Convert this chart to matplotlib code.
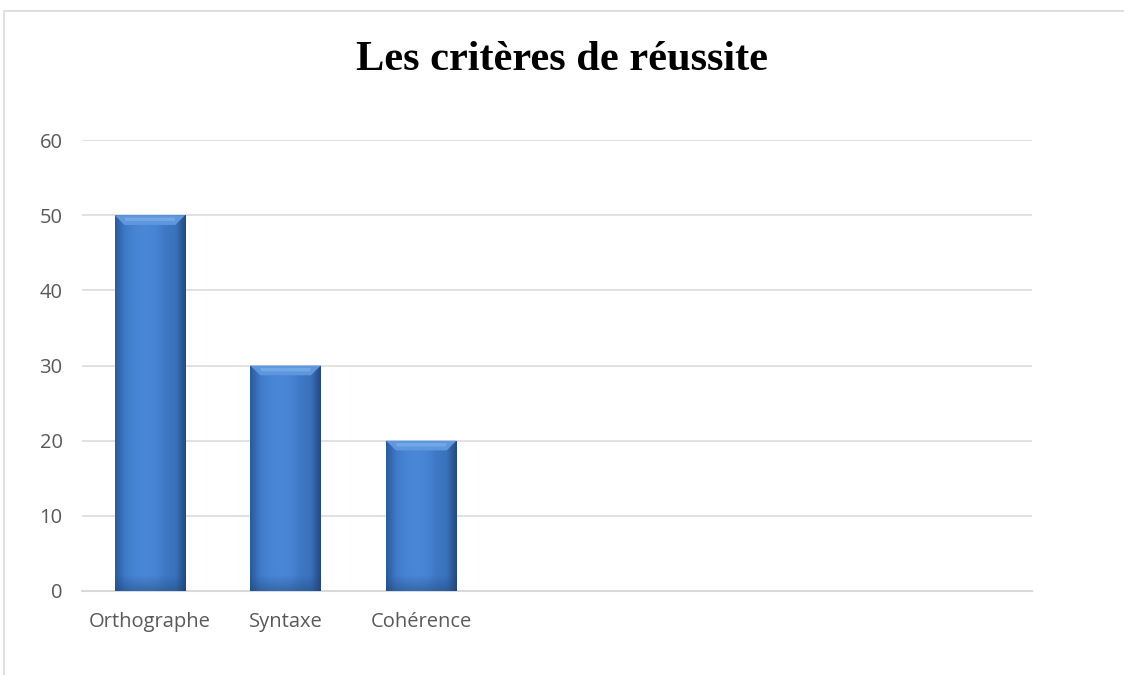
import matplotlib.pyplot as plt
import numpy as np
from matplotlib.patches import Rectangle, Polygon
from matplotlib.colors import LinearSegmentedColormap

categories = ["Orthographe", "Syntaxe", "Cohérence", "", "", "", ""]
values = [50, 30, 20, 0, 0, 0, 0]

fig = plt.figure(figsize=(11.24, 6.75), dpi=100)
ax = fig.add_axes([82 / 1124, 1 - 591 / 675, 950 / 1124, 451 / 675])

# outer chart frame (only top and left edges fall inside the canvas)
fig.patches.append(Rectangle((4 / 1124, -0.1), 1.2, 1 - 11 / 675 + 0.1,
                             transform=fig.transFigure, fill=False,
                             edgecolor="#D9D9D9", linewidth=1.2))

x = np.arange(len(categories))
bars = ax.bar(x, values, width=0.52, color="#4A86D4", zorder=3)

# horizontal shading: dark edges, flat lighter middle
shade = LinearSegmentedColormap.from_list(
    "shade", ["#2A5A9C", "#3E7AC8", "#4884D4", "#4A87D6", "#4884D3", "#3E78C4", "#3A72BC", "#23497F"])
grad = np.linspace(0, 1, 256).reshape(1, -1)
dark = LinearSegmentedColormap.from_list("d", [(0.12, 0.27, 0.47, 0.45), (0.12, 0.27, 0.47, 0.0)])
vg = np.linspace(0, 1, 64).reshape(-1, 1)
for b, v in zip(bars, values):
    if v <= 0:
        continue
    x0, w, h = b.get_x(), b.get_width(), b.get_height()
    im = ax.imshow(grad, extent=[x0, x0 + w, 0, h], aspect="auto",
                   cmap=shade, zorder=4, origin="lower")
    im.set_clip_path(b)
    # darker base
    im2 = ax.imshow(vg, extent=[x0, x0 + w, 0, min(2.0, h)], aspect="auto",
                    cmap=dark, zorder=5, origin="lower")
    im2.set_clip_path(b)
    # beveled top
    bev = 1.3
    dx = w * 0.14
    ax.add_patch(Polygon([(x0, h), (x0 + w, h), (x0 + w - dx, h - bev), (x0 + dx, h - bev)],
                         closed=True, facecolor="#5E97DE", edgecolor="none", zorder=6))
    ax.add_patch(Polygon([(x0 + dx, h - bev * 0.25), (x0 + w - dx, h - bev * 0.25),
                          (x0 + w - dx * 1.1, h - bev * 0.6), (x0 + dx * 1.1, h - bev * 0.6)],
                         closed=True, facecolor="#7DB0EC", edgecolor="none", alpha=0.7, zorder=7))

ax.set_xlim(-0.5, len(categories) - 0.5)
ax.set_ylim(0, 60)
ax.set_yticks(range(0, 61, 10))
ax.set_xticks(x)
ax.set_xticklabels(categories)
ax.yaxis.grid(True, color="#D9D9D9", linewidth=1.1, zorder=0)
ax.set_axisbelow(True)
for s in ["top", "right", "left"]:
    ax.spines[s].set_visible(False)
ax.spines["bottom"].set_color("#D9D9D9")
ax.spines["bottom"].set_linewidth(1.5)
ax.tick_params(axis="both", length=0, labelsize=14.5, labelcolor="#595959")
ax.tick_params(axis="y", pad=14)
ax.tick_params(axis="x", pad=15)
for lab in ax.get_xticklabels() + ax.get_yticklabels():
    lab.set_fontfamily("Open Sans")

fig.text(0.5, 1 - 60 / 675, "Les critères de réussite", ha="center", va="center",
         fontsize=30.5, fontweight="bold", family="Liberation Serif")

fig.savefig("out.png", dpi=100)
